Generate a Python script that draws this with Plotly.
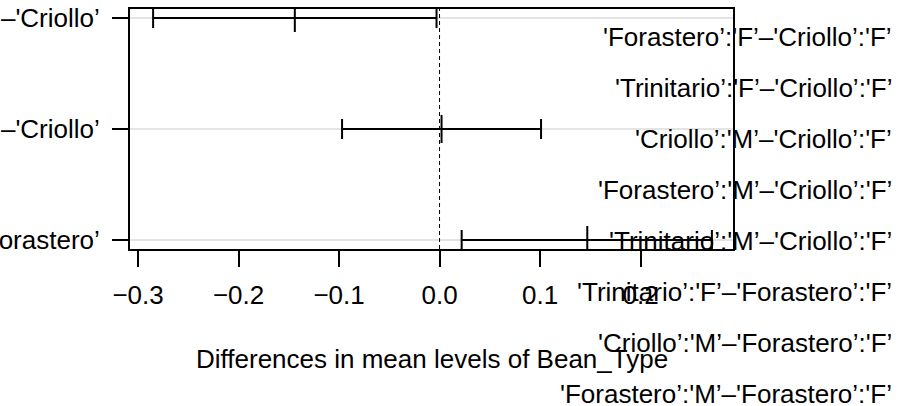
import plotly.graph_objects as go

# ---- data (Tukey HSD, Bean_Type) ----
comparisons = ["'Forastero’–'Criollo’", "'Trinitario’–'Criollo’", "'Trinitario’–'Forastero’"]
diff = [-0.144, 0.002, 0.147]
lwr = [-0.285, -0.097, 0.022]
upr = [-0.003, 0.101, 0.271]

# labels from the overlapping interaction plot
interaction_labels = [
    "'Forastero’:'F’–'Criollo’:'F’",
    "'Trinitario’:'F’–'Criollo’:'F’",
    "'Criollo’:'M’–'Criollo’:'F’",
    "'Forastero’:'M’–'Criollo’:'F’",
    "'Trinitario’:'M’–'Criollo’:'F’",
    "'Trinitario’:'F’–'Forastero’:'F’",
    "'Criollo’:'M’–'Forastero’:'F’",
    "'Forastero’:'M’–'Forastero’:'F’",
]
x_ticks = [-0.3, -0.2, -0.1, 0.0, 0.1, 0.2]
x_title = "Differences in mean levels of Bean_Type"

W, H = 898, 406
FONT = "Liberation Sans, Arial, Helvetica, sans-serif"
FS = 26
rows = list(range(1, len(comparisons) + 1))

fig = go.Figure()
fig.add_trace(go.Scatter(
    x=diff, y=rows, mode="markers",
    marker=dict(symbol="line-ns", size=20, line=dict(width=2, color="black"), color="black"),
    error_x=dict(type="data", symmetric=False,
                 array=[u - d for u, d in zip(upr, diff)],
                 arrayminus=[d - l for d, l in zip(diff, lwr)],
                 color="black", thickness=2, width=10),
    showlegend=False, hoverinfo="skip",
))

shapes = []
for r in rows:
    shapes.append(dict(type="line", xref="x domain", yref="y", x0=0, x1=1, y0=r, y1=r,
                       line=dict(color="#e4e4e4", width=2), layer="below"))
shapes.append(dict(type="line", xref="x", yref="y domain", x0=0, x1=0, y0=0, y1=1,
                   line=dict(color="black", width=1, dash="4px,3px"), layer="above"))

annotations = []
for k, lab in enumerate(interaction_labels):
    ypx = 37 + 51 * k
    annotations.append(dict(text=lab, xref="paper", yref="paper", x=894 / W, y=1 - ypx / H,
                            xanchor="right", yanchor="middle", showarrow=False,
                            font=dict(family=FONT, size=FS, color="black")))
annotations.append(dict(text=x_title, xref="paper", yref="paper", x=(131 + 733) / 2 / W,
                        y=1 - 359 / H, xanchor="center", yanchor="middle", showarrow=False,
                        font=dict(family=FONT, size=FS, color="black")))

fig.update_layout(
    width=W, height=H, template="none",
    margin=dict(l=0, r=0, t=0, b=0, pad=0),
    paper_bgcolor="white", plot_bgcolor="white",
    font=dict(family=FONT, size=FS, color="black"),
    shapes=shapes, annotations=annotations,
    xaxis=dict(domain=[130 / W, 733 / W], range=[-0.308, 0.292], automargin=False,
               tickvals=x_ticks, tickformat=".1f", ticks="outside", ticklen=16, tickwidth=2,
               tickcolor="black", showline=True, linewidth=2, linecolor="black", mirror=True,
               showgrid=False, zeroline=False, ticklabelstandoff=6,
               tickfont=dict(family=FONT, size=FS, color="black")),
    yaxis=dict(domain=[1 - 249 / H, 1 - 9 / H], range=[3.081, 0.919], automargin=False,
               tickvals=rows, ticktext=comparisons, ticks="outside", ticklen=16, tickwidth=2,
               tickcolor="black", showline=True, linewidth=2, linecolor="black", mirror=True,
               showgrid=False, zeroline=False, ticklabelstandoff=7,
               tickfont=dict(family=FONT, size=FS, color="black")),
)

fig.write_html("out.html", config={"displayModeBar": False},
               post_script="document.body.style.margin='0';document.body.style.overflow='hidden';")
